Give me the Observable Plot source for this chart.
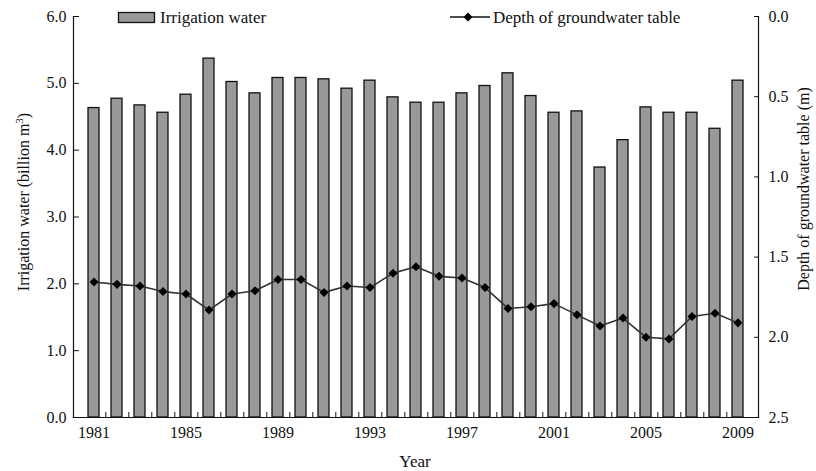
<!DOCTYPE html>
<html><head><meta charset="utf-8">
<script src="https://cdn.jsdelivr.net/npm/d3@7"></script>
<script src="https://cdn.jsdelivr.net/npm/@observablehq/plot@0.6"></script>
<style>
body{margin:0;background:#fff;font-family:"Liberation Serif","Times New Roman","DejaVu Serif",serif;color:#111;}
#wrap{position:relative;width:816px;height:471px;overflow:hidden;}
#wrap svg text{font-family:"Liberation Serif","Times New Roman","DejaVu Serif",serif;}
.lbl{position:absolute;white-space:nowrap;font-size:17px;line-height:1;}
.rot{transform:translate(-50%,-50%) rotate(-90deg);font-size:16px;}
.ctr{transform:translate(-50%,-50%);}
</style></head><body><div id="wrap"></div>
<script>
const years = [1981,1982,1983,1984,1985,1986,1987,1988,1989,1990,1991,1992,1993,1994,1995,1996,1997,1998,1999,2000,2001,2002,2003,2004,2005,2006,2007,2008,2009];
const irrigation = [4.63,4.77,4.67,4.56,4.83,5.37,5.02,4.85,5.08,5.08,5.06,4.92,5.04,4.79,4.71,4.71,4.85,4.96,5.15,4.81,4.56,4.58,3.74,4.15,4.64,4.56,4.56,4.32,5.04];
const depth = [1.655,1.67,1.68,1.715,1.73,1.83,1.73,1.71,1.64,1.64,1.72,1.68,1.69,1.60,1.56,1.62,1.63,1.69,1.82,1.81,1.79,1.86,1.93,1.88,2.00,2.01,1.87,1.85,1.91];
const leftTicks = [0,1,2,3,4,5,6];
const depthTicks = [0,0.5,1,1.5,2,2.5];
const yearLabels = [1981,1985,1989,1993,1997,2001,2005,2009];

const data = years.map((year,i)=>({year, water: irrigation[i], depth: depth[i]}));
const toLeft = d => 6 - d*6/2.5;
const fromLeft = v => (6 - v)*2.5/6;
const W=816,H=471,mL=73,mR=58,mT=16,mB=54;
const step = (W-mL-mR)/years.length;
const serif = "'Liberation Serif','Times New Roman','DejaVu Serif',serif";

const plot = Plot.plot({
  width: W, height: H, marginLeft: mL, marginRight: mR, marginTop: mT, marginBottom: mB,
  style: {fontFamily: serif, fontSize: "16px", color: "#111", background: "#fff", overflow: "visible"},
  x: {type: "band", domain: years, paddingInner: 0.53, paddingOuter: 0.265, align: 0.5, axis: null},
  y: {domain: [0, 6], axis: null},
  marks: [
    Plot.barY(data, {x: "year", y: "water", fill: "#999", stroke: "#111", strokeWidth: 1.3}),
    Plot.line(data, {x: "year", y: d => toLeft(d.depth), stroke: "#333", strokeWidth: 1.6}),
    Plot.dot(data, {x: "year", y: d => toLeft(d.depth), symbol: "square", rotate: 45, fill: "#000", r: 3.6}),
    Plot.frame({anchor: "left", stroke: "#111", strokeWidth: 1.2}),
    Plot.frame({anchor: "right", stroke: "#111", strokeWidth: 1.2}),
    Plot.frame({anchor: "bottom", stroke: "#111", strokeWidth: 1.2}),
    Plot.axisY(leftTicks, {anchor: "left", tickSize: 0, tickPadding: 7, tickFormat: d => d.toFixed(1), label: null, fontSize: 16}),
    Plot.axisY(leftTicks, {anchor: "left", tickSize: -6, tickFormat: () => "", label: null, stroke: "#111"}),
    Plot.axisY(depthTicks.map(toLeft), {anchor: "right", tickSize: 0, tickPadding: 10, tickFormat: v => fromLeft(v).toFixed(1), label: null, fontSize: 16}),
    Plot.axisY(depthTicks.map(toLeft), {anchor: "right", tickSize: -5, tickFormat: () => "", label: null, stroke: "#111"}),
    Plot.axisX(yearLabels, {anchor: "bottom", tickSize: 0, tickPadding: 9, tickFormat: d => String(d), label: null, fontSize: 16}),
    Plot.axisX(years.slice(0, -1), {anchor: "bottom", tickSize: -5, tickFormat: () => "", label: null, dx: step/2, stroke: "#111"})
  ]
});
const wrap = document.getElementById("wrap");
wrap.appendChild(plot);

function addLabel(html, x, y, cls){
  const d = document.createElement("div");
  d.className = "lbl " + cls;
  d.style.left = x + "px"; d.style.top = y + "px";
  d.innerHTML = html;
  wrap.appendChild(d);
}
addLabel("Irrigation water (billion m<sup style='font-size:11px'>3</sup>)", 23, 202, "rot");
addLabel("Depth of groundwater table (m)", 804, 189, "rot");
addLabel("Year", 415, 461, "ctr");

// legend
const lg = document.createElement("div");
lg.innerHTML = `
<svg width="816" height="30" style="position:absolute;left:0;top:0">
  <rect x="118.5" y="12.5" width="36" height="10" fill="#999" stroke="#111" stroke-width="1.3"/>
  <line x1="450" x2="490" y1="17" y2="17" stroke="#111" stroke-width="1.4"/>
  <path d="M468,12.5L472.5,17L468,21.5L463.5,17Z" fill="#000"/>
</svg>`;
wrap.appendChild(lg);
addLabel("Irrigation water", 160, 9, "");
addLabel("Depth of groundwater table", 493, 9, "");
</script>
</body></html>
